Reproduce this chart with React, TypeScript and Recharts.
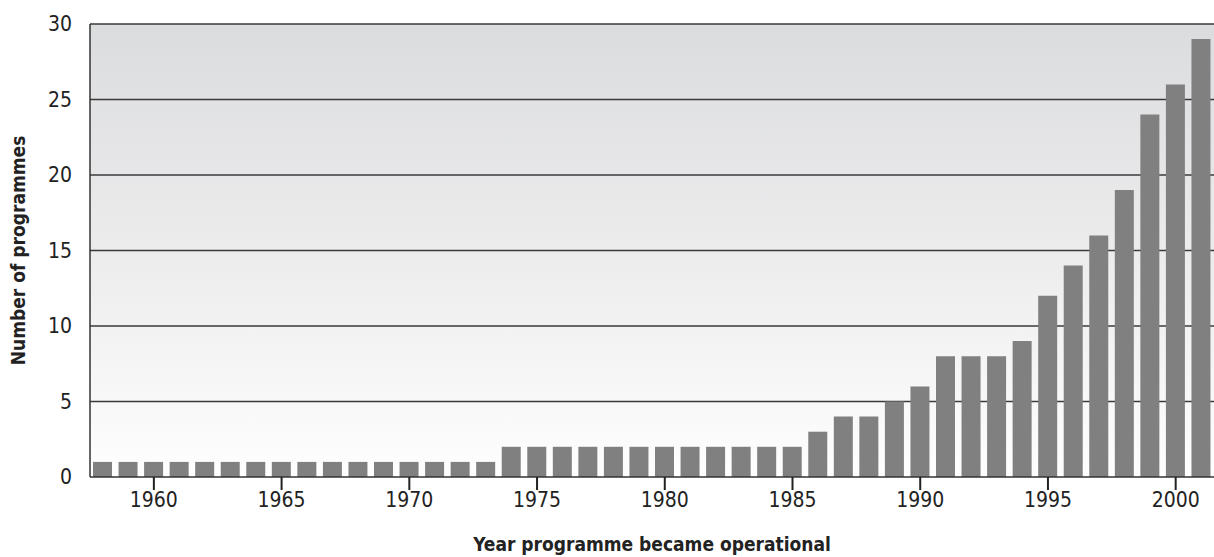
import { BarChart, Bar, XAxis, YAxis, CartesianGrid } from 'recharts';

// years 1958 - 2001
const years = [
  1958, 1959, 1960, 1961, 1962, 1963, 1964, 1965, 1966, 1967, 1968,
  1969, 1970, 1971, 1972, 1973, 1974, 1975, 1976, 1977, 1978, 1979,
  1980, 1981, 1982, 1983, 1984, 1985, 1986, 1987, 1988, 1989, 1990,
  1991, 1992, 1993, 1994, 1995, 1996, 1997, 1998, 1999, 2000, 2001,
];

const programmes = [
  1, 1, 1, 1, 1, 1, 1, 1, 1, 1, 1,
  1, 1, 1, 1, 1, 2, 2, 2, 2, 2, 2,
  2, 2, 2, 2, 2, 2, 3, 4, 4, 5, 6,
  8, 8, 8, 9, 12, 14, 16, 19, 24, 26, 29,
];

const xTicks = [1960, 1965, 1970, 1975, 1980, 1985, 1990, 1995, 2000];
const yTicks = [0, 5, 10, 15, 20, 25, 30];

const data = years.map((year, i) => ({ year, value: programmes[i] }));

const font = "'Liberation Sans Narrow', 'DejaVu Sans Condensed', 'Arial Narrow', sans-serif";

export default function App() {
  return (
    <div style={{ position: 'absolute', left: 0, top: 0, width: 1214, height: 557, background: '#fff', fontFamily: font }}>
      <BarChart
        width={1214}
        height={557}
        data={data}
        margin={{ top: 24, right: 0, left: 40, bottom: 40 }}
        barCategoryGap="13%"
      >
        <defs>
          <linearGradient id="bg" x1="0" y1="0" x2="0" y2="1">
            <stop offset="0%" stopColor="#dbdcde" />
            <stop offset="50%" stopColor="#ececed" />
            <stop offset="100%" stopColor="#fefefe" />
          </linearGradient>
        </defs>
        <CartesianGrid
          vertical={false}
          fill="url(#bg)"
          fillOpacity={1}
          stroke="#3a3a3a"
          strokeWidth={1.5}
          horizontalValues={[5, 10, 15, 20, 25, 30]}
        />
        <Bar dataKey="value" fill="#808080" barSize={19} isAnimationActive={false} />
        <XAxis
          dataKey="year"
          type="category"
          ticks={xTicks}
          interval={0}
          tickSize={13}
          tickMargin={2}
          tickLine={{ stroke: '#222', strokeWidth: 2 }}
          axisLine={{ stroke: '#333', strokeWidth: 1.5 }}
          tick={{ fill: '#222', fontSize: 21, fontFamily: font }}
          height={40}
          label={{
            value: 'Year programme became operational',
            position: 'insideBottom',
            offset: -34,
            fill: '#222',
            fontSize: 19,
            fontWeight: 'bold',
            fontFamily: font,
          }}
        />
        <YAxis
          type="number"
          domain={[0, 30]}
          ticks={yTicks}
          tickLine={false}
          tickMargin={12}
          axisLine={{ stroke: '#333', strokeWidth: 1.5 }}
          width={50}
          tick={{ fill: '#222', fontSize: 21, fontFamily: font }}
          label={{
            value: 'Number of programmes',
            angle: -90,
            position: 'insideLeft',
            offset: -22,
            fill: '#222',
            fontSize: 19,
            fontWeight: 'bold',
            fontFamily: font,
            style: { textAnchor: 'middle' },
          }}
        />
      </BarChart>
    </div>
  );
}
